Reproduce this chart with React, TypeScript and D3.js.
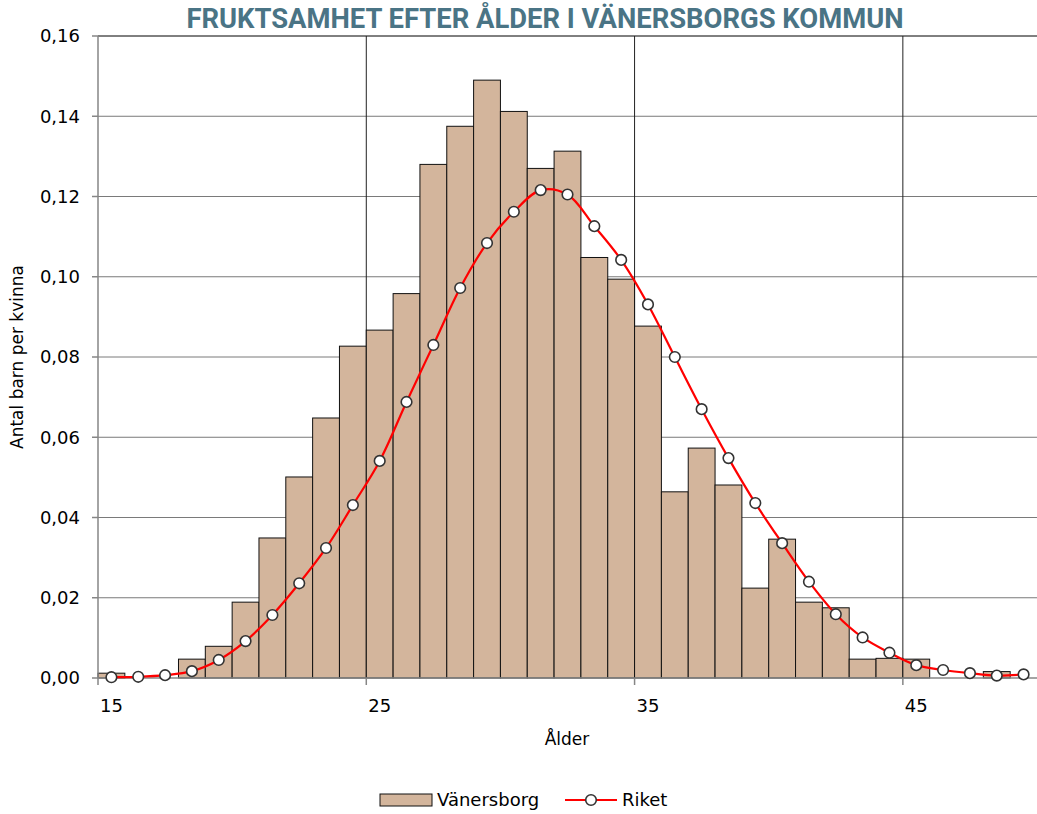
import React from "react";
import * as d3 from "d3";

const ages = d3.range(15, 50);
const vanersborg = [
  0.0012, 0, 0, 0.0047, 0.0079, 0.0189, 0.0349, 0.0501, 0.0648, 0.0827,
  0.0867, 0.0958, 0.128, 0.1375, 0.149, 0.1412, 0.127, 0.1313, 0.1048, 0.0994,
  0.0877, 0.0464, 0.0573, 0.0481, 0.0224, 0.0346, 0.0189, 0.0175, 0.0047, 0.0049,
  0.0047, 0, 0, 0.0016, 0,
];
const riket = [
  0.0002, 0.0003, 0.0007, 0.0017, 0.0045, 0.0092, 0.0157, 0.0236, 0.0324, 0.0431,
  0.0541, 0.0688, 0.083, 0.0972, 0.1084, 0.1162, 0.1216, 0.1205, 0.1126, 0.1042,
  0.0931, 0.08, 0.067, 0.0548, 0.0436, 0.0336, 0.024, 0.0159, 0.0101, 0.0063,
  0.0032, 0.002, 0.0012, 0.0006, 0.0009,
];
const yTicks = [0, 0.02, 0.04, 0.06, 0.08, 0.1, 0.12, 0.14, 0.16];
const xTickAges = [15, 25, 35, 45];
const title = "FRUKTSAMHET EFTER ÅLDER I VÄNERSBORGS KOMMUN";

const W = 1037;
const H = 814;
const FONT = "'DejaVu Sans', 'Liberation Sans', sans-serif";

export default function App() {
  const x = d3.scaleBand<number>().domain(ages).range([98, 1037]).padding(0);
  const y = d3.scaleLinear().domain([0, 0.16]).range([678, 36]);
  const fmt = (v: number) => d3.format(".2f")(v).replace(".", ",");
  const cx = (a: number) => (x(a) as number) + x.bandwidth() / 2;
  const line = d3
    .line<number>()
    .x((_, i) => cx(ages[i]))
    .y((d) => y(d))
    .curve(d3.curveCatmullRom.alpha(0.5));

  return (
    <svg
      width={W}
      height={H}
      style={{ position: "absolute", left: 0, top: 0, background: "#fff" }}
      fontFamily={FONT}
    >
      <rect x={0} y={0} width={W} height={H} fill="#fff" />
      {/* horizontal gridlines */}
      {yTicks.map((t) =>
        t === 0 ? null : (
          <line
            key={"hg" + t}
            x1={98}
            x2={1037}
            y1={y(t)}
            y2={y(t)}
            stroke={t === 0.16 ? "#000" : "#7a7a7a"}
            strokeWidth={1}
          />
        )
      )}
      {/* vertical gridlines */}
      {xTickAges.slice(1).map((a) => (
        <line
          key={"vg" + a}
          x1={x(a) as number}
          x2={x(a) as number}
          y1={36}
          y2={678}
          stroke="#222"
          strokeWidth={1}
        />
      ))}
      {/* bars */}
      {ages.map((a, i) =>
        vanersborg[i] > 0 ? (
          <rect
            key={"b" + a}
            x={x(a) as number}
            y={y(vanersborg[i])}
            width={x.bandwidth()}
            height={678 - y(vanersborg[i])}
            fill="#D3B59C"
            stroke="#111"
            strokeWidth={1}
          />
        ) : null
      )}
      {/* axes */}
      <line x1={98} x2={98} y1={36} y2={678} stroke="#868686" strokeWidth={1.5} />
      <line x1={98} x2={1037} y1={678} y2={678} stroke="#868686" strokeWidth={1.5} />
      {yTicks.map((t) => (
        <g key={"yt" + t}>
          <line x1={92} x2={98} y1={y(t)} y2={y(t)} stroke="#868686" strokeWidth={1.5} />
          <text x={80} y={y(t)} dy="0.36em" textAnchor="end" fontSize={18} fill="#000">
            {fmt(t)}
          </text>
        </g>
      ))}
      {xTickAges.map((a) => (
        <g key={"xt" + a}>
          <line
            x1={x(a) as number}
            x2={x(a) as number}
            y1={678}
            y2={685}
            stroke="#868686"
            strokeWidth={1.5}
          />
          <text x={cx(a)} y={712} textAnchor="middle" fontSize={18} fill="#000">
            {a}
          </text>
        </g>
      ))}
      {/* riket line */}
      <path d={line(riket) || ""} fill="none" stroke="#FF0000" strokeWidth={2.2} />
      {riket.map((v, i) => (
        <circle
          key={"p" + i}
          cx={cx(ages[i])}
          cy={y(v)}
          r={5.3}
          fill="#fff"
          stroke="#333"
          strokeWidth={1.6}
        />
      ))}
      {/* titles */}
      <text
        x={545}
        y={28}
        textAnchor="middle"
        fontSize={27.4}
        fontWeight="bold"
        fill="#4A7485"
        fontFamily="Roboto, 'Liberation Sans', sans-serif"
      >
        {title}
      </text>
      <text x={567} y={745} textAnchor="middle" fontSize={17} fill="#000">
        Ålder
      </text>
      <text
        transform="translate(23,357) rotate(-90)"
        textAnchor="middle"
        fontSize={17}
        fill="#000"
      >
        Antal barn per kvinna
      </text>
      {/* legend */}
      <rect x={380} y={794} width={52} height={12} fill="#D3B59C" stroke="#111" strokeWidth={1} />
      <text x={437} y={806} fontSize={18} fill="#000">
        Vänersborg
      </text>
      <line x1={565} x2={617} y1={800} y2={800} stroke="#FF0000" strokeWidth={2.2} />
      <circle cx={591} cy={800} r={5.3} fill="#fff" stroke="#333" strokeWidth={1.6} />
      <text x={622} y={806} fontSize={18} fill="#000">
        Riket
      </text>
    </svg>
  );
}
